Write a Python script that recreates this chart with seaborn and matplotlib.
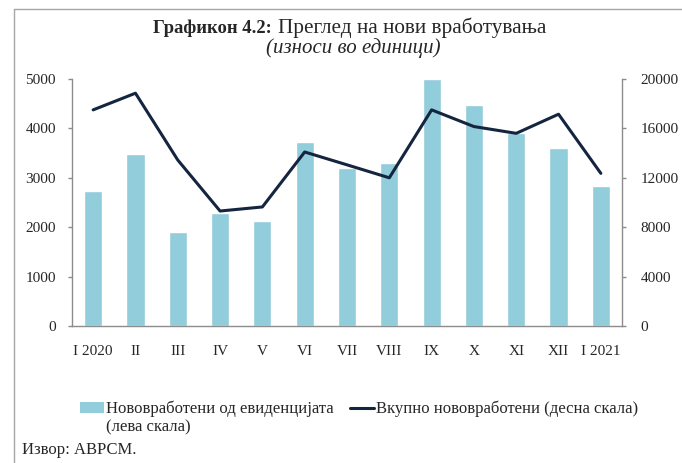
import numpy as np
import pandas as pd
import matplotlib
matplotlib.use("Agg")
import matplotlib.pyplot as plt
from matplotlib.lines import Line2D
from matplotlib.patches import Patch
import seaborn as sns

months = ["I 2020", "II", "III", "IV", "V", "VI", "VII", "VIII", "IX", "X", "XI", "XII", "I 2021"]
registry_new = [2730, 3480, 1900, 2290, 2130, 3730, 3200, 3300, 4990, 4470, 3910, 3600, 2830]
total_new = [17500, 18850, 13440, 9310, 9640, 14090, 13050, 12000, 17500, 16150, 15600, 17150, 12360]
left_ticks = [0, 1000, 2000, 3000, 4000, 5000]
right_ticks = [0, 4000, 8000, 12000, 16000, 20000]

bar_label_1 = "Нововработени од евиденцијата"
bar_label_2 = "(лева скала)"
line_label = "Вкупно нововработени (десна скала)"

df = pd.DataFrame({"month": months, "pos": np.arange(len(months)),
                   "registry": registry_new, "total": total_new})

sns.set_style("white")
plt.rcParams["font.family"] = ["Liberation Serif", "DejaVu Serif"]

W, H = 682, 463
fig = plt.figure(figsize=(6.82, 4.63), dpi=100)
ax = fig.add_axes([72/W, 1-326/H, (622-72)/W, (326-79)/H])
bar_color = "#92CDDB"
line_color = "#14253F"
grey = "#8C8C8C"

sns.barplot(data=df, x="month", y="registry", color=bar_color, width=0.43,
            saturation=1, ax=ax, zorder=2)
ax2 = ax.twinx()
sns.lineplot(data=df, x="pos", y="total", color=line_color, linewidth=2.2, ax=ax2, zorder=3)

ax.set_xlim(-0.5, len(months) - 0.5)
ax.set_ylim(0, 5000)
ax2.set_ylim(0, 20000)
ax.set_yticks(left_ticks)
ax2.set_yticks(right_ticks)
ax.set_xticks(np.arange(len(months)))
ax.set_xticklabels(months)
ax.set_xticks(np.arange(-0.5, len(months)), minor=True)
ax.tick_params(axis="x", which="major", length=0, pad=14, labelsize=11)
ax.tick_params(axis="x", which="minor", length=3.6, color=grey, width=1, direction="out")
ax.tick_params(axis="y", length=3, color=grey, width=1, direction="out", labelsize=11, pad=8.6)
ax2.tick_params(axis="y", length=3, color=grey, width=1, direction="out", labelsize=11, pad=10.5)
ax.set_xlabel("")
ax.set_ylabel("")
ax2.set_xlabel("")
ax2.set_ylabel("")

for a in (ax, ax2):
    a.spines["top"].set_visible(False)
    for s in ("left", "right", "bottom"):
        a.spines[s].set_color(grey)
        a.spines[s].set_linewidth(1)
ax.spines["right"].set_visible(False)
ax2.spines["left"].set_visible(False)
ax2.spines["bottom"].set_visible(False)
ax2.patch.set_visible(False)

# Title
fig.text(153/W, 1-28/H, "Графикон 4.2:", ha="left", va="center",
         fontsize=13.4, fontweight="bold")
fig.text(278/W, 1-28/H, "Преглед на нови вработувања", ha="left", va="center",
         fontsize=15.3)
fig.text(353/W, 1-48/H, "(износи во единици)", ha="center", va="center",
         fontsize=15, style="italic")

# Legend
handles = [Patch(facecolor=bar_color, edgecolor="none"),
           Line2D([0], [0], color=line_color, linewidth=2.2)]
leg = fig.legend(handles, [bar_label_1, line_label], loc="center left",
                 bbox_to_anchor=(80/W, 1-409/H), ncol=2, frameon=False,
                 fontsize=12, handlelength=1.44, handleheight=0.6,
                 handletextpad=0.12, columnspacing=1.0,
                 borderaxespad=0, borderpad=0)
fig.canvas.draw()
renderer = fig.canvas.get_renderer()
bb = leg.get_texts()[0].get_window_extent(renderer)
x_text = bb.x0 / fig.bbox.width
fig.text(x_text, 1-427/H, bar_label_2, ha="left", va="center", fontsize=12)

fig.text(22/W, 1-450/H, "Извор: АВРСМ.", ha="left", va="center", fontsize=12)

# Frame
fig.add_artist(Line2D([14/W, 14/W], [0, 1-9/H], transform=fig.transFigure,
                      color="#A6A6A6", linewidth=1))
fig.add_artist(Line2D([14/W, 1], [1-9/H, 1-9/H], transform=fig.transFigure,
                      color="#A6A6A6", linewidth=1))

fig.savefig("out.png", dpi=100)
